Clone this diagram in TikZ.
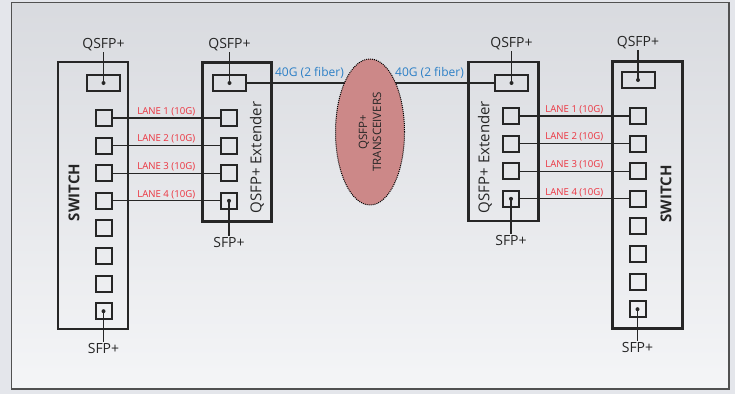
\documentclass[tikz,border=0pt]{standalone}
\usepackage{fontspec}
\setmainfont{Open Sans}
\usetikzlibrary{shapes.geometric}

\definecolor{inkgray}{RGB}{38,38,38}
\definecolor{lanered}{RGB}{236,50,62}
\definecolor{linkblue}{RGB}{45,128,198}
\definecolor{trxfill}{RGB}{204,136,136}
\definecolor{pagebg}{RGB}{228,230,235}

\tikzset{
    unitbox/.style={draw=inkgray, line width=2.8pt, inner sep=0pt},
    qport/.style={draw=inkgray, line width=2pt, inner sep=0pt, minimum width=33, minimum height=16},
    sport/.style={draw=inkgray, line width=2pt, inner sep=0pt, minimum size=16},
    portdot/.style={fill=inkgray, circle, inner sep=0pt, minimum size=4},
    portlbl/.style={text=inkgray, font=\fontsize{14}{14}\selectfont, inner sep=1pt},
    unitlbl/.style={text=inkgray, rotate=90, font=\fontsize{15}{15}\selectfont},
    lanelbl/.style={text=lanered, font=\fontsize{9.6}{9.6}\selectfont, inner sep=1.5pt},
    linklbl/.style={text=linkblue, font=\fontsize{12}{12}\selectfont, inner sep=1pt},
    wire/.style={draw=inkgray, line width=1.2pt}
}

\begin{document}
\begin{tikzpicture}[x=1pt, y=-1pt]

    % background and frame
    \useasboundingbox (0,0) rectangle (735,394);
    \fill[pagebg] (0,0) rectangle (735,394);
    \shade[top color=pagebg!95!black, bottom color=white!60!pagebg] (11.5,2.5) rectangle (729,389);
    \draw[inkgray!80, line width=1.2pt] (11.5,2.5) rectangle (729,389);

    % the four boxes
    \node[unitbox, minimum width=70, minimum height=267] (lsw) at (93,195.5) {};
    \node[unitbox, minimum width=69, minimum height=159] (lext) at (237,142) {};
    \node[unitbox, minimum width=70, minimum height=159] (rext) at (503.5,141.5) {};
    \node[unitbox, minimum width=70, minimum height=267] (rsw) at (647.5,195) {};

    \node[unitlbl, font=\bfseries\fontsize{15}{15}\selectfont] at (74,192.5) {SWITCH};
    \node[unitlbl] at (257,157.5) {QSFP+ Extender};
    \node[unitlbl] at (485,157) {QSFP+ Extender};
    \node[unitlbl, font=\bfseries\fontsize{15}{15}\selectfont] at (666,194) {SWITCH};

    % QSFP+ ports
    \node[qport] (lswq) at (103.5,83) {};
    \node[qport] (lextq) at (229.5,83) {};
    \node[qport] (rextq) at (511.5,83) {};
    \node[qport] (rswq) at (638,80) {};

    % small ports on the switches
    \foreach \i in {1,...,8} {
        \node[sport] (lsw\i) at (103.5,{118+27.6*(\i-1)}) {};
        \node[sport] (rsw\i) at (637.5,{116+27.6*(\i-1)}) {};
    }
    % small ports on the extenders
    \foreach \i in {1,...,4} {
        \node[sport] (lext\i) at (229,{118+27.6*(\i-1)}) {};
        \node[sport] (rext\i) at (511,{116+27.6*(\i-1)}) {};
    }

    % lanes
    \foreach \i in {1,...,4} {
        \draw[wire] (lsw\i.east) -- node[lanelbl, above] {LANE \i\ (10G)} (lext\i.west);
        \draw[wire] (rext\i.east) -- node[lanelbl, above] {LANE \i\ (10G)} (rsw\i.west);
    }

    % port labels
    \node[portlbl] (lswql) at (103.5,45) {QSFP+};
    \node[portlbl] (lextql) at (229.5,45) {QSFP+};
    \node[portlbl] (rextql) at (511.5,44) {QSFP+};
    \node[portlbl] (rswql) at (638,43) {QSFP+};
    \node[portlbl] (lswsl) at (103.5,348) {SFP+};
    \node[portlbl] (lextsl) at (229,242) {SFP+};
    \node[portlbl] (rextsl) at (511,240) {SFP+};
    \node[portlbl] (rswsl) at (637.5,347) {SFP+};

    \foreach \p in {lswq,lextq,rextq,rswq} {
        \node[portdot] at (\p.center) {};
        \draw[wire] (\p.center) -- (\p l.south);
    }
    \foreach \p/\q in {lsw8/lswsl,lext4/lextsl,rext4/rextsl,rsw8/rswsl} {
        \node[portdot] at (\p.center) {};
        \draw[wire] (\p.center) -- (\q.north);
    }

    % 40G links to the transceivers
    \coordinate (trxc) at (370,132);
    \draw[wire] (lextq.east) -- (trxc |- lextq.east);
    \draw[wire] (rextq.west) -- (trxc |- rextq.west);
    \node[linklbl] at (309.5,73) {40G (2 fiber)};
    \node[linklbl] at (429.5,73) {40G (2 fiber)};

    \node[ellipse, draw=black, densely dotted, line width=1pt, fill=trxfill,
          minimum width=69, minimum height=146, inner sep=0pt] (trx) at (trxc) {};
    \node[rotate=90, align=center, text=inkgray, font=\fontsize{11.5}{14}\selectfont] at (trxc) {QSFP+\\TRANSCEIVERS};

\end{tikzpicture}
\end{document}
